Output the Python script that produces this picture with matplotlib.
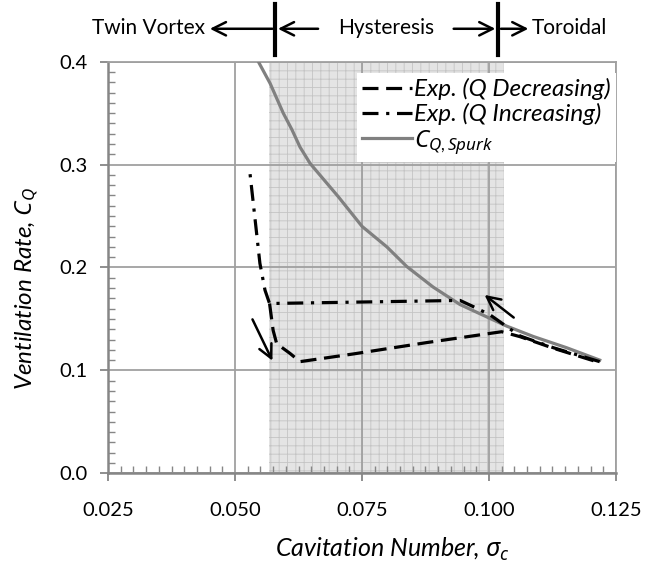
import matplotlib
matplotlib.use('Agg')
import matplotlib.pyplot as plt
import matplotlib.transforms as mtransforms
from matplotlib.patches import Rectangle
from matplotlib.ticker import MultipleLocator, FormatStrFormatter

plt.rcParams['font.family'] = ['Lato', 'DejaVu Sans']
plt.rcParams['mathtext.fontset'] = 'custom'
plt.rcParams['mathtext.rm'] = 'Lato'
plt.rcParams['mathtext.it'] = 'Noto Sans:italic'
plt.rcParams['hatch.linewidth'] = 0.6
plt.rcParams['hatch.color'] = '#c4c4c4'

# Spurk correlation
spurk_sigma = [0.0546, 0.0569, 0.0595, 0.0612, 0.0628, 0.0648, 0.0703, 0.0750,
               0.0799, 0.0838, 0.0890, 0.0943, 0.1000, 0.1035, 0.1087, 0.1153, 0.1218]
spurk_cq = [0.400, 0.379, 0.350, 0.334, 0.317, 0.301, 0.269, 0.240,
            0.220, 0.201, 0.181, 0.164, 0.151, 0.143, 0.133, 0.122, 0.110]

# experiment, Q decreasing
dec_sigma = [0.0568, 0.0575, 0.0582, 0.0608, 0.0628, 0.0733, 0.0877, 0.1025, 0.1061, 0.1127, 0.1218]
dec_cq = [0.165, 0.139, 0.126, 0.1166, 0.1085, 0.116, 0.127, 0.1376, 0.1328, 0.1215, 0.1075]

# experiment, Q increasing
inc_sigma = [0.1218, 0.1127, 0.1061, 0.1002, 0.0969, 0.0943, 0.0568, 0.0559, 0.0549, 0.0539, 0.0528]
inc_cq = [0.1085, 0.1220, 0.1335, 0.154, 0.162, 0.168, 0.165, 0.178, 0.204, 0.249, 0.298]

# hysteresis band and regime boundaries
band = (0.0567, 0.103)
bounds = (0.0579, 0.1018)

fig = plt.figure(figsize=(6.71, 5.65), dpi=100)
ax = fig.add_axes([0.161, 0.1623, 0.757, 0.7285])

ax.set_xlim(0.025, 0.125)
ax.set_ylim(0.0, 0.4)

# shaded hysteresis band with fine grid fill
ax.add_patch(Rectangle((band[0], 0), band[1] - band[0], 0.4, facecolor='#e4e4e4',
                       edgecolor='#c4c4c4', hatch='++', lw=0, zorder=1))

ax.plot(spurk_sigma, spurk_cq, color='#808080', lw=2.3, zorder=3, label=r'$C_{Q,Spurk}$')
ax.plot(dec_sigma, dec_cq, color='black', lw=2.3, dashes=(5, 2.4), zorder=4,
        label='Exp. (Q Decreasing)')
ax.plot(inc_sigma, inc_cq, color='black', lw=2.3, dashes=(5, 2.4, 1, 2.4), zorder=4,
        label='Exp. (Q Increasing)')

# direction arrows
ax.annotate('', xy=(0.0576, 0.107), xytext=(0.0532, 0.152),
            arrowprops=dict(arrowstyle='->', lw=1.8, color='black', mutation_scale=24), zorder=5)
ax.annotate('', xy=(0.0987, 0.175), xytext=(0.1053, 0.1497),
            arrowprops=dict(arrowstyle='->', lw=1.8, color='black', mutation_scale=24), zorder=5)

# axes styling
ax.xaxis.set_major_locator(MultipleLocator(0.025))
ax.xaxis.set_minor_locator(MultipleLocator(0.0025))
ax.yaxis.set_major_locator(MultipleLocator(0.1))
ax.yaxis.set_minor_locator(MultipleLocator(0.01))
ax.xaxis.set_major_formatter(FormatStrFormatter('%.3f'))
ax.yaxis.set_major_formatter(FormatStrFormatter('%.1f'))
ax.set_axisbelow('line')
ax.grid(True, which='major', color='#a0a0a0', lw=1.3)
for s in ax.spines.values():
    s.set_color('#a0a0a0')
    s.set_linewidth(1.3)
ax.spines['left'].set_color('#868686')
ax.spines['bottom'].set_color('#868686')
ax.spines['left'].set_linewidth(1.8)
ax.spines['bottom'].set_linewidth(1.8)
ax.tick_params(which='major', direction='out', length=6, width=1.3, color='#868686',
               labelsize=14.5)
ax.tick_params(axis='x', which='major', pad=15)
ax.tick_params(axis='y', which='major', pad=9)
ax.tick_params(which='minor', direction='in', length=5, width=1.0, color='#868686')

ax.set_xlabel(r'Cavitation Number, $\sigma_c$', fontsize=18, fontstyle='italic')
ax.set_ylabel(r'Ventilation Rate, $C_Q$', fontsize=17.5, fontstyle='italic')
ax.xaxis.set_label_coords(0.56, -0.152)
ax.yaxis.set_label_coords(-0.132, 0.45)

leg = ax.legend(handles=ax.lines[1:] + ax.lines[:1], loc='upper right',
                bbox_to_anchor=(1.0, 0.972), prop={'style': 'italic', 'size': 17.5},
                frameon=True, fancybox=False, framealpha=1, edgecolor='none',
                handlelength=2.05, handletextpad=0.1, labelspacing=0.12, borderpad=0.2,
                borderaxespad=0.0)
leg.set_zorder(6)

# regime annotations above the plot
trans = mtransforms.blended_transform_factory(ax.transData, ax.transAxes)
for b in bounds:
    ax.plot([b, b], [1.016, 1.14], transform=trans, color='black', lw=3, clip_on=False)
arrow_kw = dict(arrowstyle='->', lw=1.8, color='black', mutation_scale=24)
ax.annotate('', xy=(0.0445, 1.08), xytext=(bounds[0], 1.08), xycoords=trans,
            textcoords=trans, arrowprops=arrow_kw, annotation_clip=False)
ax.annotate('', xy=(bounds[0], 1.08), xytext=(0.0669, 1.08), xycoords=trans,
            textcoords=trans, arrowprops=arrow_kw, annotation_clip=False)
ax.annotate('', xy=(bounds[1], 1.08), xytext=(0.0925, 1.08), xycoords=trans,
            textcoords=trans, arrowprops=arrow_kw, annotation_clip=False)
ax.annotate('', xy=(0.1083, 1.08), xytext=(bounds[1], 1.08), xycoords=trans,
            textcoords=trans, arrowprops=arrow_kw, annotation_clip=False)
ax.text(0.0441, 1.081, 'Twin Vortex', transform=trans, ha='right', va='center', fontsize=15)
ax.text(0.0797, 1.081, 'Hysteresis', transform=trans, ha='center', va='center', fontsize=15)
ax.text(0.1085, 1.081, 'Toroidal', transform=trans, ha='left', va='center', fontsize=15)

fig.savefig('out.png', dpi=100)
